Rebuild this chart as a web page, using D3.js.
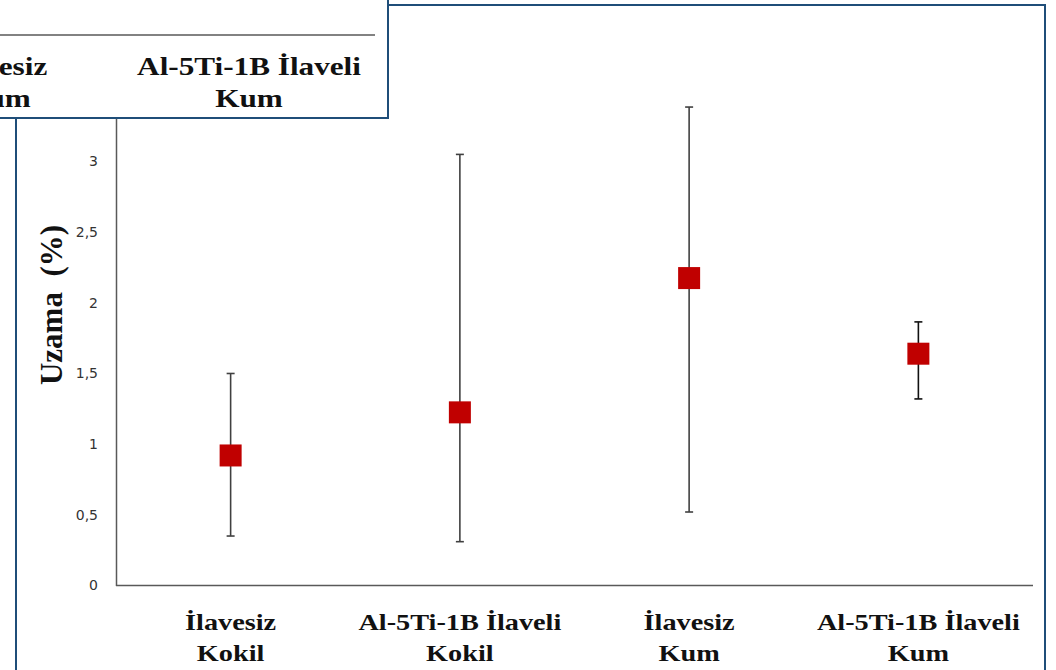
<!DOCTYPE html>
<html>
<head>
<meta charset="utf-8">
<script src="https://cdn.jsdelivr.net/npm/d3@7"></script>
<style>
  html, body { margin: 0; padding: 0; background: #fff; overflow: hidden; }
  svg { display: block; }
</style>
</head>
<body>
<svg id="chart"></svg>
<script>
// Data
const categories = ["İlavesiz Kokil", "Al-5Ti-1B İlaveli Kokil", "İlavesiz Kum", "Al-5Ti-1B İlaveli Kum"];
const labelLines = [["İlavesiz", "Kokil"], ["Al-5Ti-1B İlaveli", "Kokil"], ["İlavesiz", "Kum"], ["Al-5Ti-1B İlaveli", "Kum"]];
const meanValues = [0.92, 1.225, 2.175, 1.64];
const upperValues = [1.50, 3.05, 3.385, 1.865];
const lowerValues = [0.35, 0.31, 0.52, 1.32];
const yTicks = [0, 0.5, 1, 1.5, 2, 2.5, 3, 3.5];
const yTitle = "Uzama  (%)";

const width = 1056;
const height = 670;
const frameColor = "#1F4E79";
const axisColor = "#595959";
const serif = "'Liberation Serif', 'Times New Roman', serif";

const svg = d3.select("#chart").attr("width", width).attr("height", height);

const points = categories.map((c, i) => ({
  cat: c,
  lines: labelLines[i],
  mean: meanValues[i],
  hi: upperValues[i],
  lo: lowerValues[i],
}));

// Scales
let x = d3.scaleBand().domain(categories).range([116, 1033]);
let y = d3.scaleLinear().domain([0, 3.5]).range([585.5, 90.8]);

// Outer frame of the chart
svg.append("rect")
  .attr("x", 16).attr("y", 5)
  .attr("width", 1029).attr("height", 720)
  .attr("fill", "none")
  .attr("stroke", frameColor)
  .attr("stroke-width", 2);

// Y axis
const yAxis = svg.append("g")
  .attr("transform", "translate(116,0)")
  .call(d3.axisLeft(y).tickValues(yTicks).tickSize(0).tickSizeOuter(0).tickPadding(18)
    .tickFormat((d) => String(d).replace(".", ",")));
yAxis.select(".domain").attr("stroke", axisColor).attr("stroke-width", 1.5);
yAxis.selectAll("text")
  .attr("font-family", "'DejaVu Sans', sans-serif")
  .attr("font-size", 14)
  .attr("fill", "#333");

// X axis line
svg.append("line")
  .attr("x1", x.range()[0]).attr("x2", x.range()[1])
  .attr("y1", y(0)).attr("y2", y(0))
  .attr("stroke", axisColor)
  .attr("stroke-width", 1.5);

// Category labels
const catLabels = svg.append("g").selectAll("g")
  .data(points)
  .enter()
  .append("g")
  .attr("transform", (d) => "translate(" + (x(d.cat) + x.bandwidth() / 2) + ",0)");
catLabels.each(function (d) {
  d.lines.forEach((line, k) => {
    d3.select(this).append("text")
      .attr("transform", "translate(0," + (630 + k * 31) + ") scale(1.23,1)")
      .attr("text-anchor", "middle")
      .attr("font-family", serif)
      .attr("font-weight", "bold")
      .attr("font-size", 23)
      .attr("fill", "#111")
      .text(line);
  });
});

// Y title
svg.append("text")
  .attr("transform", "translate(62,305) rotate(-90)")
  .attr("text-anchor", "middle")
  .attr("font-family", serif)
  .attr("font-weight", "bold")
  .attr("font-size", 31)
  .attr("fill", "#111")
  .style("white-space", "pre")
  .text(yTitle);

// Error bars
const bars = svg.append("g").selectAll("g")
  .data(points)
  .enter()
  .append("g")
  .attr("stroke", (d, i) => (i === 3 ? "#111" : "#404040"))
  .attr("stroke-width", 1.6);
bars.append("line")
  .attr("x1", (d) => x(d.cat) + x.bandwidth() / 2)
  .attr("x2", (d) => x(d.cat) + x.bandwidth() / 2)
  .attr("y1", (d) => y(d.hi))
  .attr("y2", (d) => y(d.lo));
bars.append("line")
  .attr("x1", (d) => x(d.cat) + x.bandwidth() / 2 - 4)
  .attr("x2", (d) => x(d.cat) + x.bandwidth() / 2 + 4)
  .attr("y1", (d) => y(d.hi))
  .attr("y2", (d) => y(d.hi));
bars.append("line")
  .attr("x1", (d) => x(d.cat) + x.bandwidth() / 2 - 4)
  .attr("x2", (d) => x(d.cat) + x.bandwidth() / 2 + 4)
  .attr("y1", (d) => y(d.lo))
  .attr("y2", (d) => y(d.lo));

// Square markers
const size = 22;
svg.append("g").selectAll("rect")
  .data(points)
  .enter()
  .append("rect")
  .attr("x", (d) => x(d.cat) + x.bandwidth() / 2 - size / 2)
  .attr("y", (d) => y(d.mean) - size / 2)
  .attr("width", size)
  .attr("height", size)
  .attr("fill", "#C00000");

// Overlapping piece of a second copy of the chart (top left)
const over = svg.append("g");
over.append("rect")
  .attr("x", -10).attr("y", -10)
  .attr("width", 398).attr("height", 128)
  .attr("fill", "#fff")
  .attr("stroke", frameColor)
  .attr("stroke-width", 2);
let x2 = d3.scaleBand().domain(categories).range([375 - 4 * 252, 375]);
over.append("line")
  .attr("x1", 0).attr("x2", x2.range()[1])
  .attr("y1", 35).attr("y2", 35)
  .attr("stroke", axisColor)
  .attr("stroke-width", 1.5);
over.selectAll("g")
  .data(points.slice(2))
  .enter()
  .append("g")
  .attr("transform", (d) => "translate(" + (x2(d.cat) + x2.bandwidth() / 2) + ",0)")
  .each(function (d) {
    d.lines.forEach((line, k) => {
      d3.select(this).append("text")
        .attr("transform", "translate(0," + (75 + k * 32) + ") scale(1.2,1)")
        .attr("text-anchor", "middle")
        .attr("font-family", serif)
        .attr("font-weight", "bold")
        .attr("font-size", 26)
        .attr("fill", "#111")
        .text(line);
    });
  });
</script>
</body>
</html>
